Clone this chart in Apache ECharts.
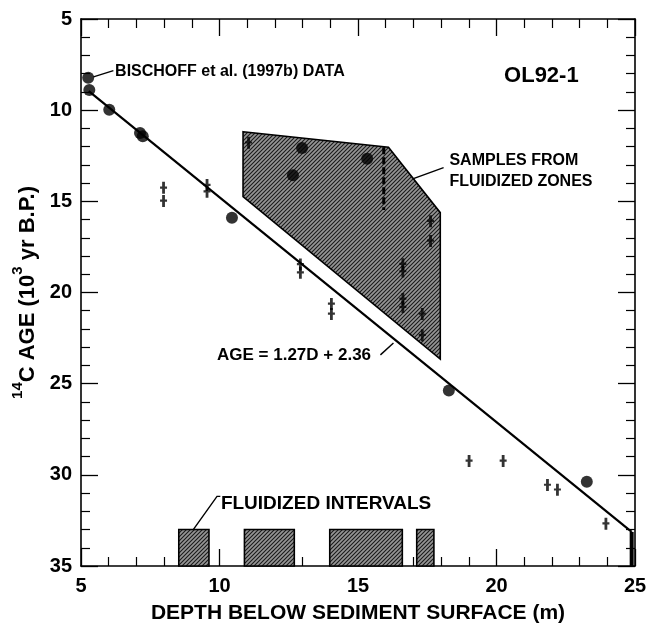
<!DOCTYPE html>
<html><head><meta charset="utf-8">
<script src="https://cdn.jsdelivr.net/npm/echarts@6/dist/echarts.min.js"></script>
<style>html,body{margin:0;padding:0;background:#fff;}#c{width:656px;height:629px;}</style>
</head><body><div id="c"></div>
<script>
// ---- data ----
const circleX = [5.26, 5.30, 6.02, 7.13, 7.23, 10.45, 12.98, 12.65, 15.33, 18.28, 23.26];
const circleY = [8.22, 8.90, 9.98, 11.25, 11.43, 15.90, 12.08, 13.57, 12.66, 25.38, 30.38];
const daggerX = [7.98, 7.98, 9.55, 9.55, 11.05, 12.92, 12.92, 14.04, 14.04, 16.62, 16.62, 16.62, 16.62, 17.32, 17.32, 17.62, 17.62, 19.01, 20.24, 21.84, 22.20, 23.95];
const daggerY = [14.26, 14.98, 14.11, 14.47, 11.79, 18.46, 18.91, 20.63, 21.18, 18.45, 18.85, 20.35, 20.80, 21.18, 22.34, 16.09, 17.17, 29.24, 29.24, 30.56, 30.82, 32.68];
const dashX = [15.93, 15.93];
const dashY = [12.03, 15.47];
const edgeBarX = [24.88, 24.88];
const edgeBarY = [33.13, 35.0];
const fitX = [5.28, 24.88];
const fitY = [8.95, 33.13];
const zoneX = [10.85, 16.10, 17.97, 17.97, 10.85];
const zoneY = [11.18, 12.03, 15.62, 23.65, 14.74];
const intervalStart = [8.53, 10.90, 13.98, 17.12];
const intervalEnd = [9.62, 12.70, 16.60, 17.74];
const intervalTop = 33.0;
const intervalBottom = 35.0;
const xTicks = [5, 10, 15, 20, 25];
const yTicks = [5, 10, 15, 20, 25, 30, 35];

const FONT = 'Liberation Sans, Arial, sans-serif';
function hatch() {
  const c = document.createElement('canvas');
  c.width = 4; c.height = 4;
  const g = c.getContext('2d');
  g.fillStyle = '#959595'; g.fillRect(0, 0, 4, 4);
  g.strokeStyle = '#1a1a1a'; g.lineWidth = 1.1;
  g.beginPath();
  g.moveTo(0, 4); g.lineTo(4, 0);
  g.moveTo(-1, 1); g.lineTo(1, -1);
  g.moveTo(3, 5); g.lineTo(5, 3);
  g.stroke();
  return c;
}
const pattern = { image: hatch(), repeat: 'repeat' };
const dagger = 'path://M2.1,0H4.9V4.6H7V6.8H4.9V12H2.1V6.8H0V4.6H2.1Z';

const chart = echarts.init(document.getElementById('c'), null, { renderer: 'canvas' });
const tickCommon = {
  axisLine: { show: true, onZero: false, lineStyle: { color: '#000', width: 1.6 } },
  axisTick: { show: true, inside: true, length: 17, lineStyle: { color: '#000', width: 1.3 } },
  minorTick: { show: true, splitNumber: 5, length: 9, lineStyle: { color: '#000', width: 1.2 } },
  splitLine: { show: false }, minorSplitLine: { show: false }
};
const labelStyle = { color: '#000', fontSize: 20, fontWeight: 'bold', fontFamily: FONT };

chart.setOption({
  animation: false,
  backgroundColor: '#fff',
  grid: { left: 81, right: 21, top: 19, bottom: 58 },
  xAxis: [
    Object.assign({ type: 'value', min: xTicks[0], max: xTicks[xTicks.length - 1], interval: 5, position: 'bottom',
      axisLabel: Object.assign({ margin: 10 }, labelStyle),
      name: 'DEPTH BELOW SEDIMENT SURFACE (m)', nameLocation: 'middle', nameGap: 37,
      nameTextStyle: { color: '#000', fontSize: 21, fontWeight: 'bold', fontFamily: FONT } }, tickCommon),
    Object.assign({ type: 'value', min: xTicks[0], max: xTicks[xTicks.length - 1], interval: 5, position: 'top',
      axisLabel: { show: false } }, tickCommon)
  ],
  yAxis: [
    Object.assign({ type: 'value', min: yTicks[0], max: yTicks[yTicks.length - 1], interval: 5, inverse: true, position: 'left',
      axisLabel: Object.assign({ margin: 9 }, labelStyle),
      name: '{sup|14}{b|C AGE (10}{sup|3}{b| yr B.P.)}', nameLocation: 'middle', nameGap: 42, nameRotate: 90,
      nameTextStyle: { color: '#000', fontFamily: FONT,
        rich: { b: { fontSize: 22, fontWeight: 'bold', fontFamily: FONT, color: '#000', lineHeight: 28, verticalAlign: 'bottom' },
                sup: { fontSize: 15, fontWeight: 'bold', fontFamily: FONT, color: '#000', lineHeight: 28, verticalAlign: 'top' } } } }, tickCommon),
    Object.assign({ type: 'value', min: yTicks[0], max: yTicks[yTicks.length - 1], interval: 5, inverse: true, position: 'right',
      axisLabel: { show: false } }, tickCommon)
  ],
  series: [
    { type: 'custom', z: 1,
      renderItem: function (params, api) {
        if (params.dataIndex !== 0) return null;
        const pts = zoneX.map((x, i) => api.coord([x, zoneY[i]]));
        return { type: 'polygon', shape: { points: pts }, style: { fill: pattern, stroke: '#000', lineWidth: 1.6 } };
      },
      data: zoneX.map((x, i) => [x, zoneY[i]]) },
    { type: 'custom', z: 1,
      renderItem: function (params, api) {
        const p0 = api.coord([api.value(0), api.value(2)]);
        const p1 = api.coord([api.value(1), api.value(3)]);
        return { type: 'rect', shape: { x: p0[0], y: p0[1], width: p1[0] - p0[0], height: p1[1] - p0[1] },
          style: { fill: pattern, stroke: '#000', lineWidth: 1.6 } };
      },
      encode: { x: [0, 1], y: [2, 3] },
      data: intervalStart.map((s, i) => [s, intervalEnd[i], intervalTop, intervalBottom]) },
    { type: 'line', data: fitX.map((x, i) => [x, fitY[i]]), symbol: 'none', lineStyle: { color: '#000', width: 2.2 }, z: 3 },
    { type: 'line', data: dashX.map((x, i) => [x, dashY[i]]), symbol: 'none', lineStyle: { color: '#000', width: 3, type: [7, 3] }, z: 4 },
    { type: 'line', data: edgeBarX.map((x, i) => [x, edgeBarY[i]]), symbol: 'none', lineStyle: { color: '#000', width: 4 }, z: 4 },
    { type: 'scatter', data: circleX.map((x, i) => [x, circleY[i]]), symbol: 'circle', symbolSize: 12, itemStyle: { color: '#000' }, z: 5 },
    { type: 'scatter', data: daggerX.map((x, i) => [x, daggerY[i]]), symbol: dagger, symbolSize: [7, 12], itemStyle: { color: '#000' }, z: 5 }
  ]
});

// annotations placed in data coordinates
const annoTexts = [
  { t: 'BISCHOFF et al. (1997b) DATA', x: 6.23, y: 7.86, size: 16, align: 'left' },
  { t: 'OL92-1', x: 21.62, y: 8.15, size: 22, align: 'center' },
  { t: 'SAMPLES FROM', x: 18.3, y: 12.77, size: 16, align: 'left' },
  { t: 'FLUIDIZED ZONES', x: 18.3, y: 13.91, size: 16, align: 'left' },
  { t: 'AGE = 1.27D + 2.36', x: 9.91, y: 23.42, size: 17, align: 'left' },
  { t: 'FLUIDIZED INTERVALS', x: 10.05, y: 31.58, size: 19, align: 'left' }
];
const leaders = [
  { x: [5.45, 6.17], y: [8.17, 7.83] },
  { x: [18.09, 17.0], y: [13.15, 13.75] },
  { x: [15.81, 16.28], y: [23.42, 22.77] },
  { x: [10.03, 9.91, 9.06], y: [31.18, 31.18, 32.99] }
];
const toPx = (x, y) => chart.convertToPixel({ xAxisIndex: 0, yAxisIndex: 0 }, [x, y]);
const g = [];
annoTexts.forEach(a => {
  const p = toPx(a.x, a.y);
  g.push({ type: 'text', x: p[0], y: p[1], z: 10,
    style: { text: a.t, fill: '#000', font: 'bold ' + a.size + 'px ' + FONT, textAlign: a.align, textVerticalAlign: 'middle' } });
});
leaders.forEach(l => {
  const pts = l.x.map((x, i) => toPx(x, l.y[i]));
  g.push({ type: 'polyline', z: 10, shape: { points: pts }, style: { stroke: '#000', lineWidth: 1.4, fill: null } });
});
chart.setOption({ graphic: g });
</script>
</body></html>
